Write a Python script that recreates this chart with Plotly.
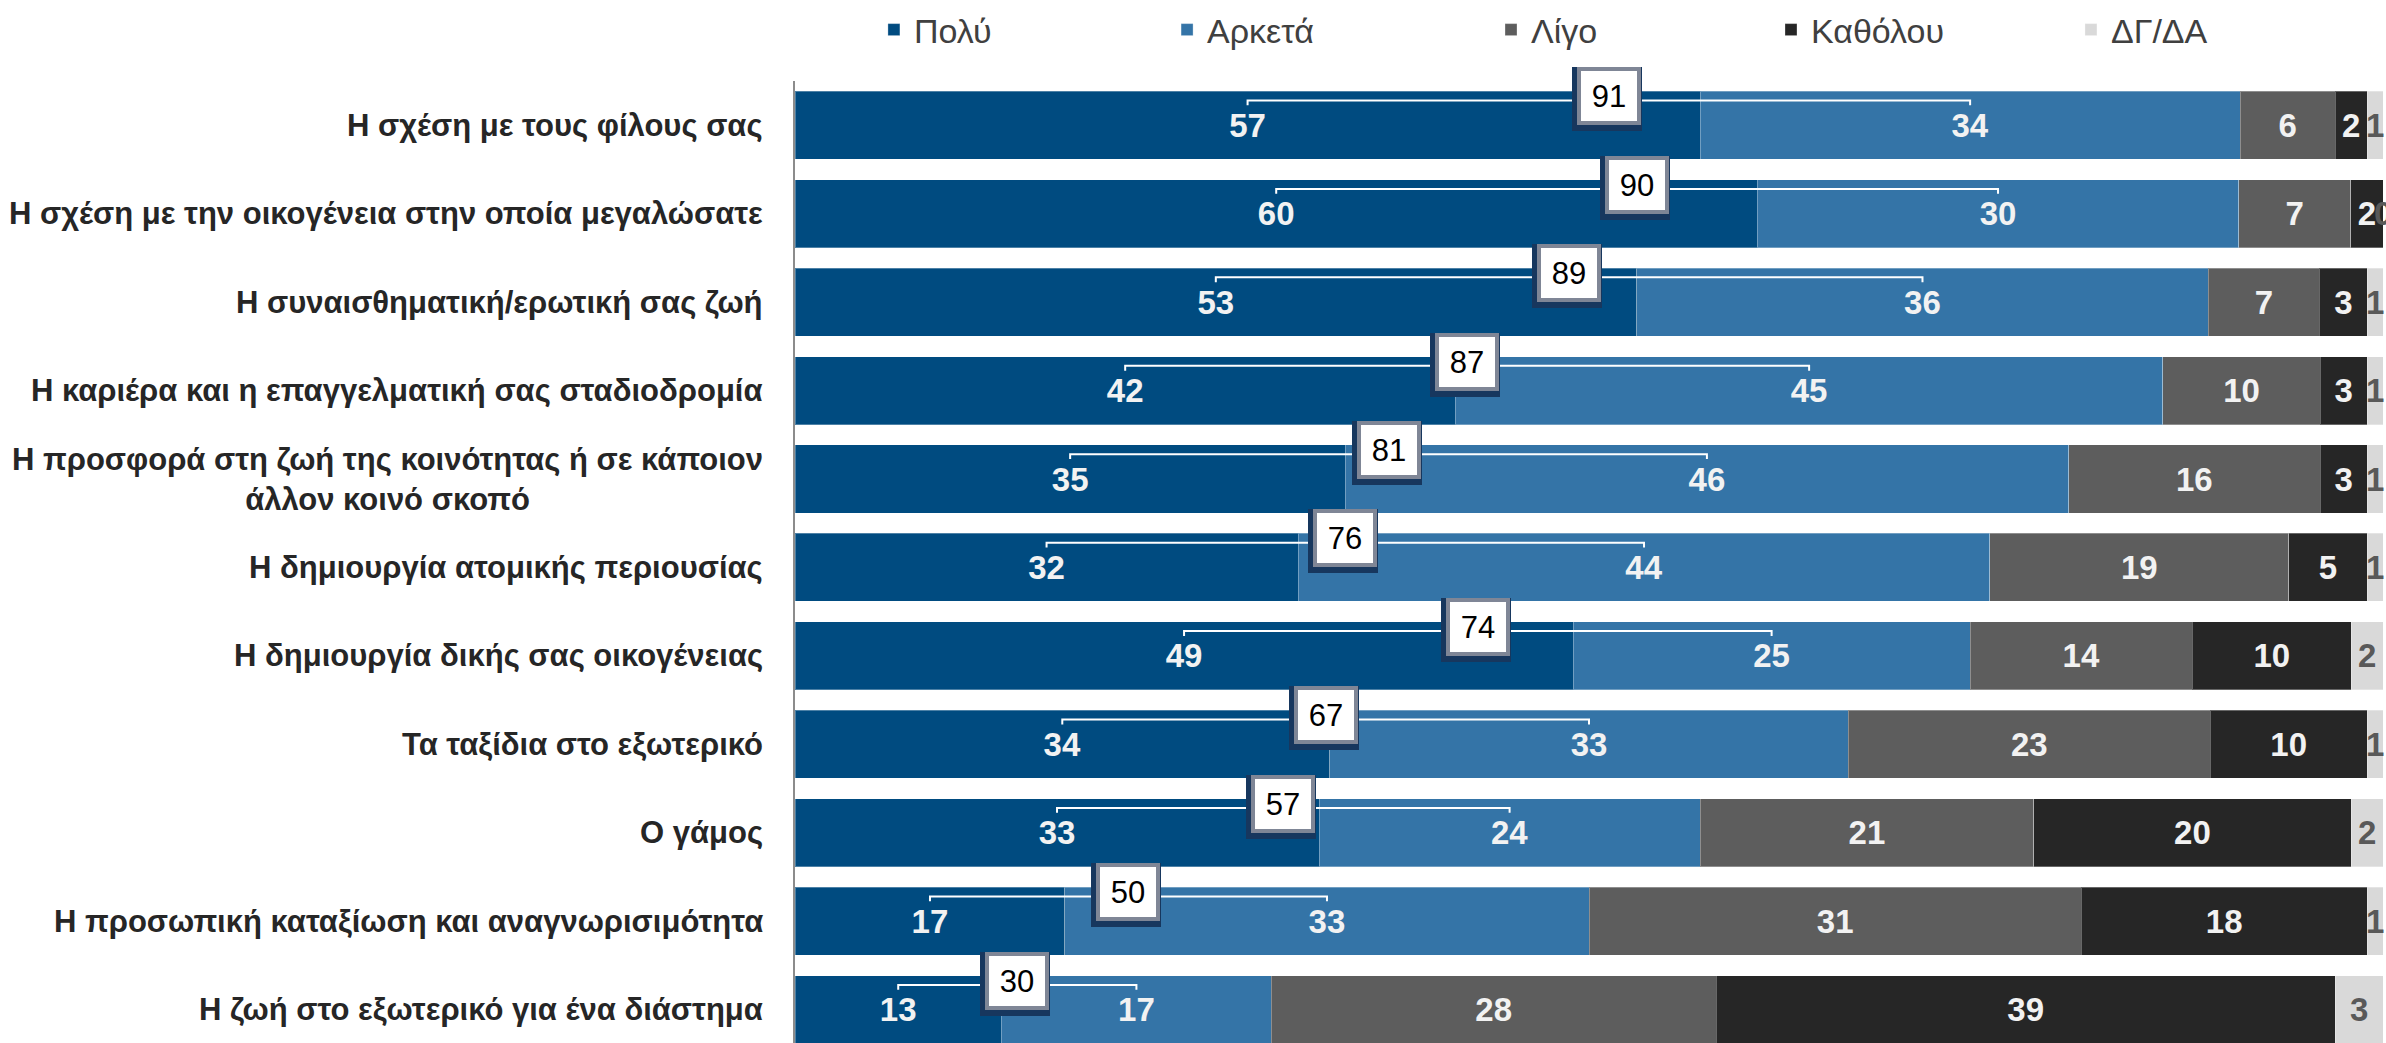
import plotly.graph_objects as go

categories = [
    "Η σχέση με τους φίλους σας",
    "Η σχέση με την οικογένεια στην οποία μεγαλώσατε",
    "Η συναισθηματική/ερωτική σας ζωή",
    "Η καριέρα και η επαγγελματική σας σταδιοδρομία",
    "Η προσφορά στη ζωή της κοινότητας ή σε κάποιον<br>άλλον κοινό σκοπό",
    "Η δημιουργία ατομικής περιουσίας",
    "Η δημιουργία δικής σας οικογένειας",
    "Τα ταξίδια στο εξωτερικό",
    "Ο γάμος",
    "Η προσωπική καταξίωση και αναγνωρισιμότητα",
    "Η ζωή στο εξωτερικό για ένα διάστημα",
]
series_names = ["Πολύ", "Αρκετά", "Λίγο", "Καθόλου", "ΔΓ/ΔΑ"]
polu = [57, 60, 53, 42, 35, 32, 49, 34, 33, 17, 13]
arketa = [34, 30, 36, 45, 46, 44, 25, 33, 24, 33, 17]
ligo = [6, 7, 7, 10, 16, 19, 14, 23, 21, 31, 28]
katholou = [2, 2, 3, 3, 3, 5, 10, 10, 20, 18, 39]
dk = [1, 0, 1, 1, 1, 1, 2, 1, 2, 1, 3]

colors = ["#004B80", "#3474A7", "#5D5D5D", "#262626", "#D9D9D9"]
text_colors = ["#F2F2F2", "#F2F2F2", "#F2F2F2", "#F2F2F2", "#595959"]
legend_x = [0.0497, 0.2343, 0.4383, 0.6146, 0.8035]

FONT = "Liberation Sans, Arial, sans-serif"

series = [polu, arketa, ligo, katholou, dk]
n = len(categories)
rows = list(range(n))
totals_row = [sum(s[i] for s in series) for i in range(n)]
pct = [[s[i] / totals_row[i] * 100 for i in range(n)] for s in series]

legend_ids = ["legend"] + ["legend%d" % (k + 1) for k in range(1, len(series_names))]
last = len(series_names) - 1

fig = go.Figure()
for k, name in enumerate(series_names):
    inside = k != last
    fig.add_trace(go.Bar(
        name=name, orientation="h", y=rows, x=pct[k], legend=legend_ids[k],
        text=[str(v) for v in series[k]] if inside else None,
        texttemplate="%{text}" if inside else None,
        textposition="inside" if inside else "none",
        insidetextanchor="middle", textangle=0,
        constraintext="none", cliponaxis=False,
        textfont=dict(family=FONT, size=33, color=text_colors[k], weight=700),
        marker=dict(color=colors[k], line=dict(color="rgba(255,255,255,0.3)", width=1)),
        width=0.77, hoverinfo="skip",
    ))

# brackets for Πολύ + Αρκετά
bx, by = [], []
line_off = 0.28
tick_off = 0.225
box_x = []
for i in rows:
    c1 = pct[0][i] / 2
    c2 = pct[0][i] + pct[1][i] / 2
    bx += [c1, c1, c2, c2, None]
    by += [i - tick_off, i - line_off, i - line_off, i - tick_off, None]
    box_x.append((c1 + c2) / 2)
fig.add_trace(go.Scatter(x=bx, y=by, mode="lines", line=dict(color="white", width=2),
                         showlegend=False, hoverinfo="skip"))

annotations = []
for i in rows:
    annotations.append(dict(
        xref="paper", x=0, yref="y", y=i, xanchor="right", xshift=-30,
        text=categories[i], showarrow=False, align="center",
        font=dict(family=FONT, size=31, color="#262626", weight=700),
    ))
    # shadow
    annotations.append(dict(
        xref="x", x=box_x[i], yref="y", y=i, yshift=26, xshift=-2,
        text=" ", showarrow=False, width=60, height=54, borderpad=1,
        bgcolor="#17375E", bordercolor="#17375E", borderwidth=4,
    ))
    annotations.append(dict(
        xref="x", x=box_x[i], yref="y", y=i, yshift=29,
        text=str(polu[i] + arketa[i]), showarrow=False, width=54, height=48, borderpad=1,
        bgcolor="white", bordercolor="#7F8696", borderwidth=4,
        font=dict(family=FONT, size=31, color="black"),
    ))
    # ΔΓ/ΔΑ labels (segment too narrow for inside bar text)
    start = sum(pct[k][i] for k in range(last))
    annotations.append(dict(
        xref="x", x=start + pct[last][i] / 2, yref="y", y=i, text=str(dk[i]),
        showarrow=False, xanchor="center",
        font=dict(family=FONT, size=33, color=text_colors[last], weight=700),
    ))

legends = {}
for k, lid in enumerate(legend_ids):
    legends[lid] = dict(orientation="h", x=legend_x[k], xanchor="left", y=1.053,
                        yanchor="middle", bgcolor="rgba(0,0,0,0)",
                        font=dict(family=FONT, size=34, color="#404040"))

fig.update_layout(
    width=2386, height=1043,
    margin=dict(l=795, r=3, t=81, b=0, autoexpand=False),
    barmode="stack",
    plot_bgcolor="white", paper_bgcolor="white",
    xaxis=dict(range=[0, 100], visible=False, fixedrange=True),
    yaxis=dict(range=[10.377, -0.5], showticklabels=False, showgrid=False,
               zeroline=False, showline=True, linecolor="#8C8C8C", linewidth=2,
               ticks=""),
    annotations=annotations,
    showlegend=True,
    **legends,
)

fig.write_html("out.html", config={"displayModeBar": False},
               post_script="document.body.style.margin='0';")
